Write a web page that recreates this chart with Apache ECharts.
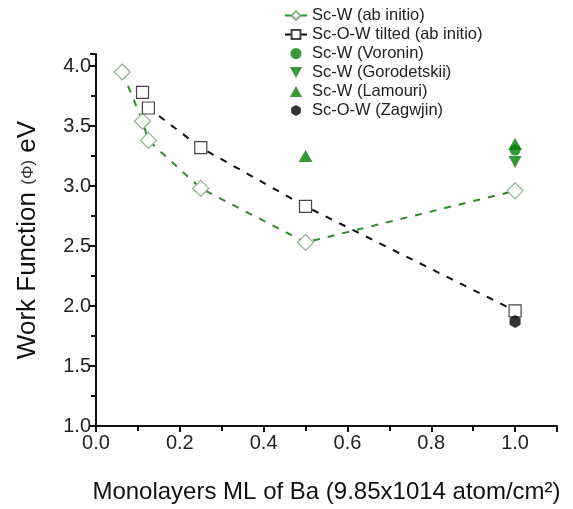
<!DOCTYPE html>
<html>
<head>
<meta charset="utf-8">
<script src="https://cdn.jsdelivr.net/npm/echarts@6/dist/echarts.min.js"></script>
<style>html,body{margin:0;padding:0;background:#fff}#c{width:573px;height:509px}</style>
</head>
<body>
<div id="c"></div>
<script>
var scwAbInitio = [[0.0625,3.95],[0.111,3.54],[0.125,3.38],[0.25,2.98],[0.5,2.53],[1.0,2.96]];
var scowTilted = [[0.111,3.78],[0.125,3.65],[0.25,3.32],[0.5,2.83],[1.0,1.96]];
var voronin = [[1.0,3.30]];
var gorodetskii = [[1.0,3.20]];
var lamouri = [[0.5,3.25],[1.0,3.35]];
var zagwjin = [[1.0,1.87]];
var seriesNames = ['Sc-W (ab initio)','Sc-O-W tilted (ab initio)','Sc-W (Voronin)','Sc-W (Gorodetskii)','Sc-W (Lamouri)','Sc-O-W (Zagwjin)'];

var green = '#078007';
var font = 'Liberation Sans, Arial, sans-serif';
var chart = echarts.init(document.getElementById('c'), null, {renderer:'canvas'});
chart.setOption({
  animation:false,
  backgroundColor:'#fff',
  textStyle:{fontFamily:font},
  legend:{
    orient:'vertical', left:279, top:2, itemGap:2, itemWidth:22, itemHeight:11,
    textStyle:{fontSize:16.5, color:'#222', fontFamily:font},
    data:seriesNames
  },
  grid:{left:96, right:16, top:54, bottom:83, containLabel:false},
  xAxis:{
    type:'value', min:0, max:1.1, interval:0.2,
    name:'Monolayers ML of Ba (9.85x1014 atom/cm²)', nameLocation:'middle', nameGap:54,
    nameTextStyle:{fontSize:24, color:'#111', fontFamily:font},
    axisLine:{show:true, lineStyle:{color:'#111', width:2}},
    axisTick:{show:true, length:6, lineStyle:{color:'#111', width:2}},
    minorTick:{show:true, splitNumber:2, length:5, lineStyle:{color:'#111', width:2}},
    splitLine:{show:false},
    axisLabel:{fontSize:20, color:'#222', margin:7, showMaxLabel:false, formatter:function(v){return v.toFixed(1);}}
  },
  yAxis:{
    type:'value', min:1, max:4.1, interval:0.5,
    name:'Work Function {s|(Φ)} eV', nameLocation:'middle', nameGap:55,
    nameTextStyle:{fontSize:26, color:'#111', fontFamily:font, rich:{s:{fontSize:17, color:'#333', fontFamily:font}}},
    axisLine:{show:true, lineStyle:{color:'#111', width:2}},
    axisTick:{show:true, length:6, lineStyle:{color:'#111', width:2}},
    minorTick:{show:true, splitNumber:2, length:5, lineStyle:{color:'#111', width:2}},
    splitLine:{show:false},
    axisLabel:{fontSize:20, color:'#222', margin:5, showMaxLabel:false, formatter:function(v){return v.toFixed(1);}}
  },
  series:[
    {name:seriesNames[0], type:'line', data:scwAbInitio, symbol:'diamond', symbolSize:16,
     lineStyle:{color:'#2f8a2f', width:2, type:[7,8]},
     itemStyle:{color:'#fff', borderColor:'#8fb08f', borderWidth:1.2}, z:3},
    {name:seriesNames[1], type:'line', data:scowTilted, symbol:'rect', symbolSize:12,
     lineStyle:{color:'#111', width:2, type:[7,8]},
     itemStyle:{color:'#fff', borderColor:'#444', borderWidth:1.2}, z:3},
    {name:seriesNames[2], type:'scatter', data:voronin, symbol:'circle', symbolSize:11,
     itemStyle:{color:green}, z:4},
    {name:seriesNames[3], type:'scatter', data:gorodetskii, symbol:'path://M0,0 L10,0 L5,9 Z', symbolSize:[13,12],
     itemStyle:{color:green}, z:4},
    {name:seriesNames[4], type:'scatter', data:lamouri, symbol:'path://M5,0 L10,9 L0,9 Z', symbolSize:[14,12],
     itemStyle:{color:green}, z:4},
    {name:seriesNames[5], type:'scatter', data:zagwjin, symbol:'path://M0,-1 L0.87,-0.5 L0.87,0.5 L0,1 L-0.87,0.5 L-0.87,-0.5 Z', symbolSize:[11,13],
     itemStyle:{color:'#000'}, z:5}
  ]
});
</script>
</body>
</html>
